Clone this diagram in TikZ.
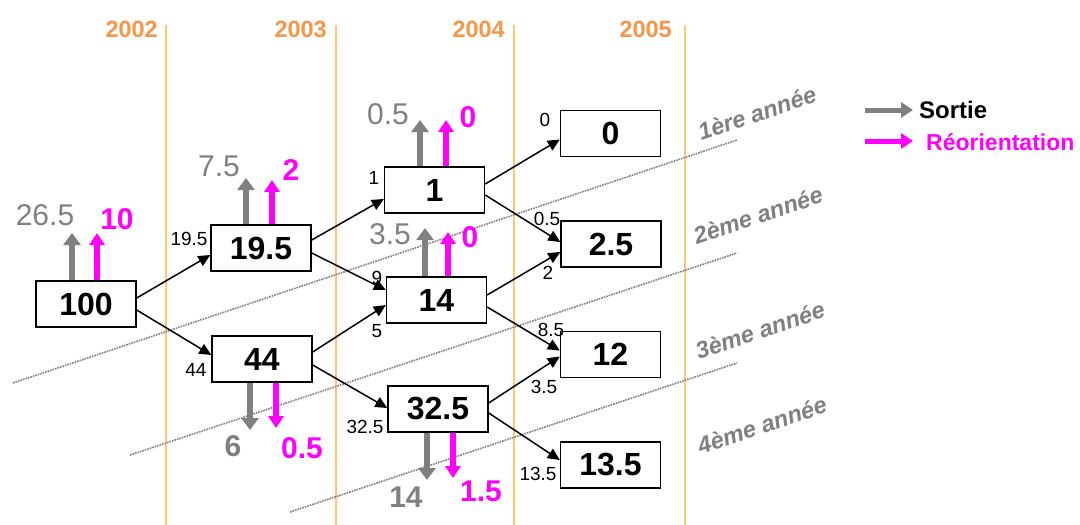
\documentclass[tikz,border=0pt]{standalone}
\usepackage{fontspec}
\setmainfont{Liberation Sans}
\usetikzlibrary{arrows.meta}
\definecolor{yr}{RGB}{247,150,70}
\definecolor{yrline}{RGB}{255,200,110}
\definecolor{sgray}{RGB}{128,128,128}
\definecolor{mag}{RGB}{255,0,255}
\tikzset{
 box/.style={draw=black,fill=white,line width=1.4pt,minimum width=100pt,minimum height=46pt,inner sep=0pt,font=\fontsize{32}{34}\selectfont\bfseries},
 conn/.style={draw=black,line width=1.5pt,-{Triangle[length=12pt,width=11pt]}},
 sortie/.style={draw=sgray,line width=6.5pt,-{Triangle[length=12pt,width=17pt]}},
 reor/.style={draw=mag,line width=5.5pt,-{Triangle[length=12pt,width=15pt]}},
 small/.style={inner sep=0pt,font=\fontsize{19}{20}\selectfont},
 glab/.style={inner sep=0pt,text=sgray,font=\fontsize{30}{31}\selectfont},
 mlab/.style={inner sep=0pt,text=mag,font=\fontsize{30}{31}\selectfont\bfseries},
 year/.style={inner sep=0pt,anchor=east,text=yr,font=\fontsize{23.5}{25}\selectfont\bfseries},
 yline/.style={draw=yrline,line width=1.2pt},
 dline/.style={draw=sgray,line width=1.6pt,densely dotted},
 alab/.style={inner sep=0pt,text=sgray,rotate=18.4,font=\fontsize{23.5}{25}\selectfont\bfseries\itshape},
}
\begin{document}
\begin{tikzpicture}[x=1pt,y=-1pt]
\useasboundingbox[fill=white] (0,0) rectangle (1080,525);
% year lines
\foreach \xx in {166,336,514,685} \draw[yline] (\xx,25) -- (\xx,525);
\node[year] (y2002) at (158,29) {2002};
\node[year] (y2003) at (327,29) {2003};
\node[year] (y2004) at (505,29) {2004};
\node[year] (y2005) at (672,29) {2005};
% dotted cohort lines
\draw[dline] (13,383) -- (737,140);
\draw[dline] (130,455) -- (737,253);
\draw[dline] (290,512) -- (737,363);
\node[alab] (a1) at (757,113) {1ère année};
\node[alab] (a2) at (758,215) {2ème année};
\node[alab] (a3) at (760,330) {3ème année};
\node[alab] (a4) at (762,425) {4ème année};
% boxes
\node[box] (b100) at (86,304) {100};
\node[box] (b195) at (261,248) {19.5};
\node[box] (b44) at (262,359) {44};
\node[box] (b1) at (434.5,190) {1};
\node[box] (b14) at (436.5,300) {14};
\node[box] (b325) at (438,409) {32.5};
\node[box] (b0) at (610.5,133.5) {0};
\node[box] (b25) at (611,244) {2.5};
\node[box] (b12) at (610.5,354.5) {12};
\node[box] (b135) at (610.5,465) {13.5};
% connectors
\draw[conn] ([yshift=6pt]b100.east) -- ([yshift=-7pt]b195.west);
\draw[conn] ([yshift=-6pt]b100.east) -- ([yshift=4pt]b44.west);
\draw[conn] ([yshift=8pt]b195.east) -- ([yshift=-9pt]b1.west);
\draw[conn] ([yshift=-5pt]b195.east) -- ([yshift=10pt]b14.west);
\draw[conn] ([yshift=7pt]b44.east) -- ([yshift=-5pt]b14.west);
\draw[conn] ([yshift=-6pt]b44.east) -- ([yshift=1pt]b325.west);
\draw[conn] ([yshift=6pt]b1.east) -- ([yshift=-6pt]b0.west);
\draw[conn] ([yshift=-5pt]b1.east) -- ([yshift=2pt]b25.west);
\draw[conn] ([yshift=5pt]b14.east) -- ([yshift=-8pt]b25.west);
\draw[conn] ([yshift=-7pt]b14.east) -- ([yshift=4pt]b12.west);
\draw[conn] ([yshift=6pt]b325.east) -- ([yshift=-2pt]b12.west);
\draw[conn] ([yshift=-4pt]b325.east) -- ([yshift=5pt]b135.west);
% small labels
\node[small] (l195) at (189,239) {19.5};
\node[small] (l44) at (196,370) {44};
\node[small] (l1) at (374,178) {1};
\node[small] (l9) at (377,278) {9};
\node[small] (l5) at (377,331) {5};
\node[small] (l325) at (365,427) {32.5};
\node[small] (l0) at (545,120) {0};
\node[small] (l05) at (547,219) {0.5};
\node[small] (l2) at (548,273) {2};
\node[small] (l85) at (551,330) {8.5};
\node[small] (l35) at (544,387) {3.5};
\node[small] (l135) at (538,474) {13.5};
% sortie / reorientation tips
\coordinate (g100) at (72,233); \coordinate (m100) at (97,233);
\coordinate (g195) at (246,178); \coordinate (m195) at (272,180);
\coordinate (g1) at (420,120); \coordinate (m1) at (446,120);
\coordinate (g14) at (425,228); \coordinate (m14) at (448,232);
\coordinate (g44) at (250,430); \coordinate (m44) at (276,428);
\coordinate (g325) at (427,480); \coordinate (m325) at (453,478);
\draw[sortie] (b100.north -| g100) -- (g100);
\draw[reor] (b100.north -| m100) -- (m100);
\draw[sortie] (b195.north -| g195) -- (g195);
\draw[reor] (b195.north -| m195) -- (m195);
\draw[sortie] (b1.north -| g1) -- (g1);
\draw[reor] (b1.north -| m1) -- (m1);
\draw[sortie] (b14.north -| g14) -- (g14);
\draw[reor] (b14.north -| m14) -- (m14);
\draw[sortie] (b44.south -| g44) -- (g44);
\draw[reor] (b44.south -| m44) -- (m44);
\draw[sortie] (b325.south -| g325) -- (g325);
\draw[reor] (b325.south -| m325) -- (m325);
% values
\node[glab] (v265) at (45,215) {26.5};
\node[mlab] (v10) at (117,219) {10};
\node[glab] (v75) at (219,166) {7.5};
\node[mlab] (v2) at (291,170) {2};
\node[glab] (v05a) at (388,114) {0.5};
\node[mlab] (v0a) at (468,117) {0};
\node[glab] (v35) at (390,234) {3.5};
\node[mlab] (v0b) at (470,237) {0};
\node[glab,font=\fontsize{30}{31}\selectfont\bfseries] (v6) at (233,446) {6};
\node[mlab] (v05b) at (302,448) {0.5};
\node[glab,font=\fontsize{30}{31}\selectfont\bfseries] (v14) at (406,497) {14};
\node[mlab] (v15) at (481,491) {1.5};
% legend
\coordinate (lg1) at (865,110);
\coordinate (lg2) at (865,141);
\node[inner sep=0pt,anchor=west,font=\fontsize{24}{26}\selectfont\bfseries] (lsort) at (919,110) {Sortie};
\node[inner sep=0pt,anchor=west,text=mag,font=\fontsize{23}{25}\selectfont\bfseries] (lreor) at (926,142) {Réorientation};
\draw[sortie,line width=5pt,-{Triangle[length=12pt,width=15pt]}] (lg1) -- ([xshift=-6pt]lsort.west);
\draw[reor,line width=5pt,-{Triangle[length=12pt,width=15pt]}] (lg2) -- ([xshift=-13pt,yshift=1pt]lreor.west);
\end{tikzpicture}
\end{document}
